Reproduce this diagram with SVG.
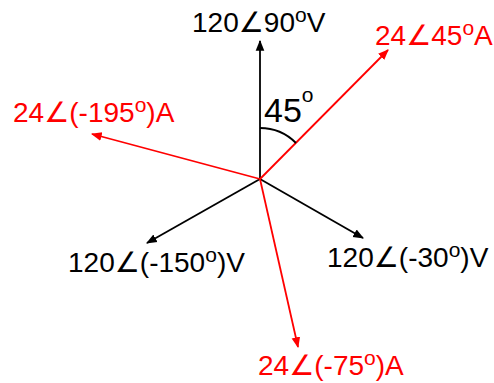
<svg xmlns="http://www.w3.org/2000/svg" width="494" height="383" viewBox="0 0 494 383">
<style>
text{font-family:"Liberation Sans",Arial,"DejaVu Sans",sans-serif;font-size:28px}
.k{fill:#000}.r{fill:#ff0000}
.lk{stroke:#000;stroke-width:1.8;fill:none}
.lr{stroke:#ff0000;stroke-width:1.8;fill:none}
.sup{font-size:21px}
</style>
<defs>
<marker id="ak" viewBox="0 0 10 10" refX="9" refY="5" markerWidth="6" markerHeight="6" orient="auto" markerUnits="strokeWidth"><path d="M0,1 L10,5 L0,9 z" fill="#000"/></marker>
<marker id="ar" viewBox="0 0 10 10" refX="9" refY="5" markerWidth="6" markerHeight="6" orient="auto" markerUnits="strokeWidth"><path d="M0,1 L10,5 L0,9 z" fill="#ff0000"/></marker>
</defs>
<g id="connectors">
<line class="lk" x1="260" y1="179" x2="260" y2="41" marker-end="url(#ak)"/>
<line class="lk" x1="260" y1="179" x2="147" y2="243" marker-end="url(#ak)"/>
<line class="lk" x1="260" y1="179" x2="363" y2="238" marker-end="url(#ak)"/>
<line class="lr" x1="260" y1="179" x2="388" y2="50" marker-end="url(#ar)"/>
<line class="lr" x1="260" y1="179" x2="92" y2="134" marker-end="url(#ar)"/>
<line class="lr" x1="260" y1="179" x2="298" y2="347" marker-end="url(#ar)"/>
<path class="lk" d="M260,128 A51,51 0 0 1 296,143"/>
</g>
<g id="v90"><text class="k" x="192" y="32">120∠90<tspan class="sup" dy="-10">o</tspan><tspan dy="10">V</tspan></text></g>
<g id="i45"><text class="r" x="375" y="45">24∠45<tspan class="sup" dy="-10">o</tspan><tspan dy="10">A</tspan></text></g>
<g id="i195"><text class="r" x="13" y="122">24∠(-195<tspan class="sup" dy="-10">o</tspan><tspan dy="10">)A</tspan></text></g>
<g id="ang"><text class="k" x="264" y="122" style="font-size:34px">45<tspan class="sup" dy="-20">o</tspan></text></g>
<g id="v150"><text class="k" x="68" y="272">120∠(-150<tspan class="sup" dy="-10">o</tspan><tspan dy="10">)V</tspan></text></g>
<g id="v30"><text class="k" x="327" y="267">120∠(-30<tspan class="sup" dy="-10">o</tspan><tspan dy="10">)V</tspan></text></g>
<g id="i75"><text class="r" x="258" y="375">24∠(-75<tspan class="sup" dy="-10">o</tspan><tspan dy="10">)A</tspan></text></g>
</svg>
